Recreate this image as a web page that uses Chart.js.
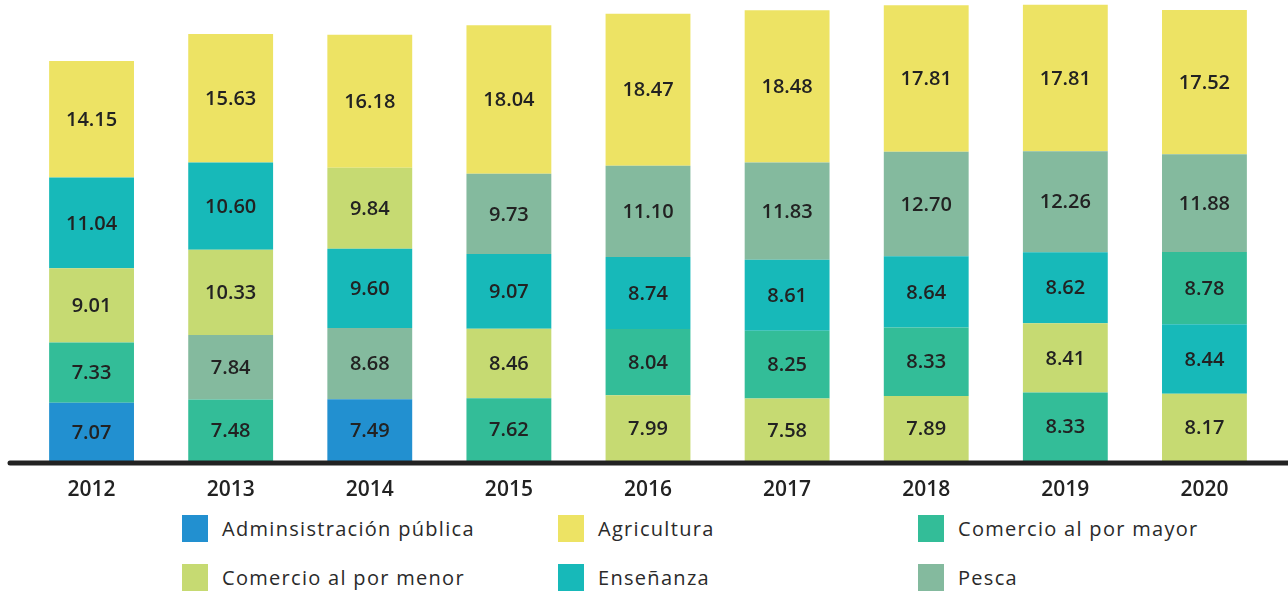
<!DOCTYPE html>
<html>
<head>
<meta charset="utf-8">
<script src="https://cdn.jsdelivr.net/npm/chart.js@4"></script>
<style>
  body { margin: 0; background: #fff; font-family: "Open Sans", sans-serif; }
  #wrap { position: relative; width: 1288px; height: 593px; }
  #chart { position: absolute; left: 0; top: 0; }
  .leg { position: absolute; display: flex; align-items: center; font-size: 20px; letter-spacing: 1.3px; color: #2a2a2a; }
  .leg span { display: inline-block; width: 26px; height: 27px; margin-right: 14px; }
</style>
</head>
<body>
<div id="wrap">
  <canvas id="chart" width="1288" height="505"></canvas>
  <div id="legend"></div>
</div>
<script>
// Años y valores por sector (null = el sector no aparece ese año)
const years = ["2012", "2013", "2014", "2015", "2016", "2017", "2018", "2019", "2020"];
const adminPublica = [7.07, null, 7.49, null, null, null, null, null, null];
const agricultura = [14.15, 15.63, 16.18, 18.04, 18.47, 18.48, 17.81, 17.81, 17.52];
const comercioMayor = [7.33, 7.48, null, 7.62, 8.04, 8.25, 8.33, 8.33, 8.78];
const comercioMenor = [9.01, 10.33, 9.84, 8.46, 7.99, 7.58, 7.89, 8.41, 8.17];
const ensenanza = [11.04, 10.60, 9.60, 9.07, 8.74, 8.61, 8.64, 8.62, 8.44];
const pesca = [null, 7.84, 8.68, 9.73, 11.10, 11.83, 12.70, 12.26, 11.88];

const sectores = [
  { nombre: "Adminsistración pública", valores: adminPublica, color: "#2290d0" },
  { nombre: "Agricultura", valores: agricultura, color: "#ede364" },
  { nombre: "Comercio al por mayor", valores: comercioMayor, color: "#33bd98" },
  { nombre: "Comercio al por menor", valores: comercioMenor, color: "#c6da72" },
  { nombre: "Enseñanza", valores: ensenanza, color: "#17b9b9" },
  { nombre: "Pesca", valores: pesca, color: "#84ba9e" }
];

// Cada año se apila de menor a mayor: un dataset por posición en la pila
const niveles = 5;
const datasets = [];
for (let n = 0; n < niveles; n++) {
  datasets.push({ data: [], backgroundColor: [], borderWidth: 0 });
}
years.forEach((y, i) => {
  const orden = sectores
    .filter(s => s.valores[i] !== null)
    .sort((a, b) => a.valores[i] - b.valores[i]);
  orden.forEach((s, n) => {
    datasets[n].data.push(s.valores[i]);
    datasets[n].backgroundColor.push(s.color);
  });
});

// Etiquetas con el valor dentro de cada segmento
const etiquetas = {
  id: "etiquetas",
  afterDatasetsDraw(chart) {
    const ctx = chart.ctx;
    ctx.save();
    ctx.font = "600 20px 'Open Sans'";
    ctx.fillStyle = "#222";
    ctx.textAlign = "center";
    ctx.textBaseline = "middle";
    chart.data.datasets.forEach((ds, d) => {
      chart.getDatasetMeta(d).data.forEach((bar, i) => {
        ctx.fillText(ds.data[i].toFixed(2), bar.x, (bar.y + bar.base) / 2 + 1);
      });
    });
    ctx.restore();
  }
};

// Línea base gruesa de lado a lado
const lineaBase = {
  id: "lineaBase",
  afterDatasetsDraw(chart) {
    const ctx = chart.ctx;
    const y = chart.chartArea.bottom + 2;
    ctx.save();
    ctx.strokeStyle = "#222";
    ctx.lineWidth = 5;
    ctx.lineCap = "round";
    ctx.beginPath();
    ctx.moveTo(10, y);
    ctx.lineTo(1290, y);
    ctx.stroke();
    ctx.restore();
  }
};

new Chart(document.getElementById("chart"), {
  type: "bar",
  data: { labels: years, datasets: datasets },
  options: {
    responsive: false,
    animation: false,
    layout: { padding: { left: 22, right: 14, top: 0, bottom: 0 } },
    plugins: { legend: { display: false }, tooltip: { enabled: false } },
    datasets: { bar: { barPercentage: 0.61, categoryPercentage: 1 } },
    scales: {
      x: {
        stacked: true,
        grid: { display: false },
        border: { display: false },
        ticks: { color: "#222", font: { family: "Open Sans", size: 21, weight: "600" }, padding: 8 },
        afterFit: s => { s.height = 44; }
      },
      y: { stacked: true, display: false, min: 0, max: 56 }
    }
  },
  plugins: [etiquetas, lineaBase]
});

// Leyenda en tres columnas
const posLeyenda = [
  [182, 529], [558, 529], [918, 529],
  [182, 578], [558, 578], [918, 578]
];
const leyenda = document.getElementById("legend");
const ordenLeyenda = ["Adminsistración pública", "Agricultura", "Comercio al por mayor", "Comercio al por menor", "Enseñanza", "Pesca"];
ordenLeyenda.forEach((nombre, k) => {
  const s = sectores.find(x => x.nombre === nombre);
  const el = document.createElement("div");
  el.className = "leg";
  el.style.left = posLeyenda[k][0] + "px";
  el.style.top = (posLeyenda[k][1] - 14) + "px";
  el.innerHTML = `<span style="background:${s.color}"></span>${s.nombre}`;
  leyenda.appendChild(el);
});
</script>
</body>
</html>
